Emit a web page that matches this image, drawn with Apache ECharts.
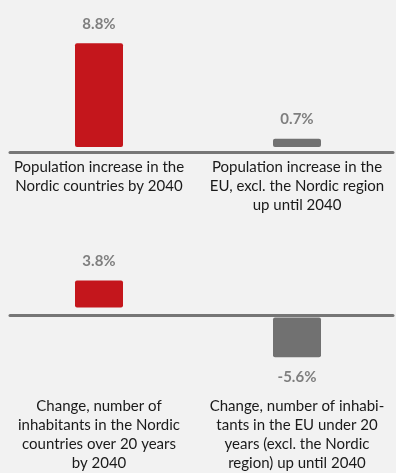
<!DOCTYPE html>
<html><head><meta charset="utf-8">
<script src="https://cdn.jsdelivr.net/npm/echarts@6/dist/echarts.min.js"></script>
<style>html,body{margin:0;padding:0;background:#f2f2f2}#chart{width:396px;height:473px}</style>
</head><body><div id="chart"></div>
<script>
// ---- data ----
const topCategories = ['Population increase in the\nNordic countries by 2040', 'Population increase in the\nEU, excl. the Nordic region\nup until 2040'];
const topValues = [8.8, 0.7];
const bottomCategories = ['Change, number of\ninhabitants in the Nordic\ncountries over 20 years\nby 2040', 'Change, number of inhabi-\ntants in the EU under 20\nyears (excl. the Nordic\nregion) up until 2040'];
const bottomValues = [3.8, -5.6];

// ---- style ----
const BAR_COLORS = ['#c4161c', '#717171'];
const GAP = 5, BAR_W = 48, LABEL_OFFSET = 19.5;
const FONT = 'Lato';
const LINE_COLOR = '#767676';

function renderBar(params, api) {
  const i = api.value(0), v = api.value(1);
  const base = api.coord([i, 0]);
  const end = api.coord([i, v]);
  const dir = v >= 0 ? -1 : 1;
  const len = Math.abs(end[1] - base[1]);
  const y0 = base[1] + dir * GAP;
  const y1 = y0 + dir * len;
  return {
    type: 'group',
    children: [
      { type: 'rect', shape: { x: base[0] - BAR_W / 2, y: Math.min(y0, y1), width: BAR_W, height: len, r: 2 },
        style: { fill: BAR_COLORS[i] } },
      { type: 'text', x: base[0], y: y1 + dir * LABEL_OFFSET,
        style: { text: v.toFixed(1) + '%', fill: '#7f7f7f', fontFamily: FONT, fontWeight: 'bold', fontSize: 15,
                 align: 'center', verticalAlign: 'middle' } }
    ]
  };
}

const catAxis = (gridIndex, data, margin, onZero) => ({
  type: 'category', gridIndex, data,
  axisLine: { show: false, onZero },
  axisTick: { show: false },
  axisLabel: { interval: 0, color: '#1a1a1a', fontFamily: FONT, fontSize: 15, lineHeight: 19, margin }
});
const lineAxis = (gridIndex) => ({
  type: 'category', gridIndex, data: ['a'],
  axisLine: { show: true, onZero: false, lineStyle: { color: LINE_COLOR, width: 3 } },
  axisTick: { show: false }, axisLabel: { show: false }, z: 3
});

const chart = echarts.init(document.getElementById('chart'));
chart.setOption({
  backgroundColor: '#f2f2f2',
  animation: false,
  grid: [
    { left: -4, right: -8, top: 34, height: 118 },
    { left: 10, right: 3, top: 100, height: 52 },
    { left: -4, right: -8, top: 270, height: 90 },
    { left: 10, right: 3, top: 280, height: 35 }
  ],
  xAxis: [
    catAxis(0, topCategories, 6, true),
    lineAxis(1),
    catAxis(2, bottomCategories, 42, false),
    lineAxis(3)
  ],
  yAxis: [
    { type: 'value', gridIndex: 0, min: 0, max: 10, show: false },
    { type: 'value', gridIndex: 1, show: false },
    { type: 'value', gridIndex: 2, min: -6, max: 6, show: false },
    { type: 'value', gridIndex: 3, show: false }
  ],
  series: [
    { type: 'custom', xAxisIndex: 0, yAxisIndex: 0, renderItem: renderBar,
      data: topValues.map((v, i) => [i, v]) },
    { type: 'custom', xAxisIndex: 2, yAxisIndex: 2, renderItem: renderBar,
      data: bottomValues.map((v, i) => [i, v]) }
  ]
});
</script>
</body></html>
